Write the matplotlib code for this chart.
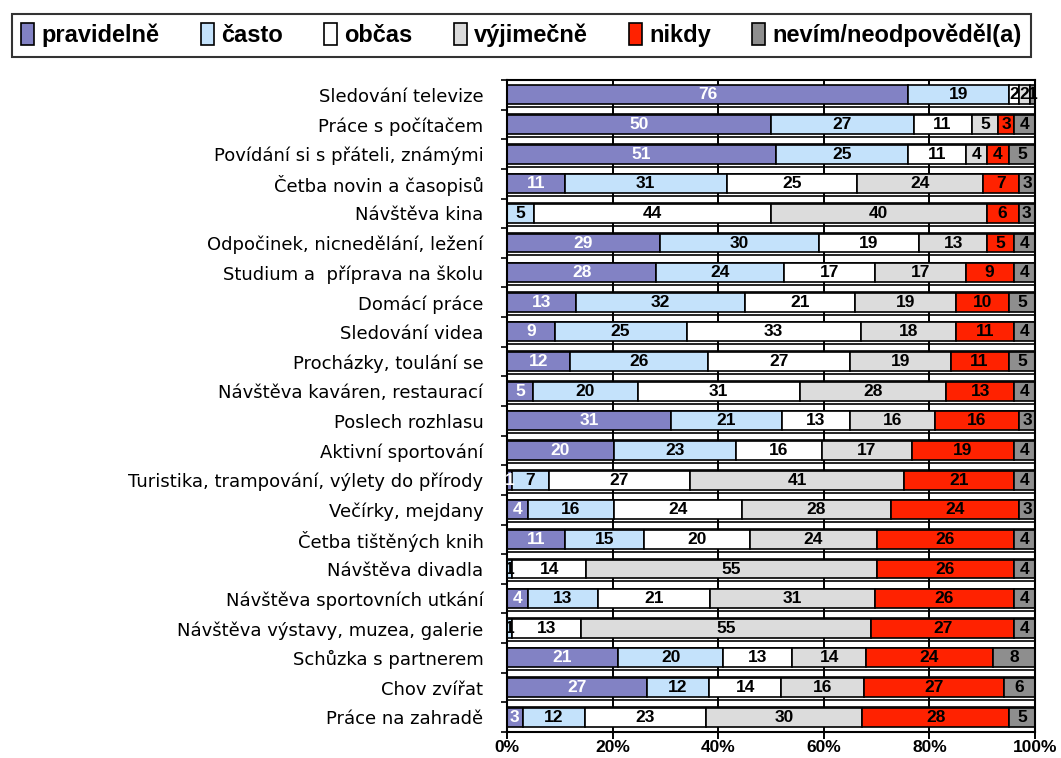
import matplotlib
matplotlib.use("Agg")
import matplotlib.pyplot as plt
import numpy as np
from matplotlib.patches import Patch

categories = [
    "Sledování televize", "Práce s počítačem", "Povídání si s přáteli, známými",
    "Četba novin a časopisů", "Návštěva kina", "Odpočinek, nicnedělání, ležení",
    "Studium a  příprava na školu", "Domácí práce", "Sledování videa",
    "Procházky, toulání se", "Návštěva kaváren, restaurací", "Poslech rozhlasu",
    "Aktivní sportování", "Turistika, trampování, výlety do přírody",
    "Večírky, mejdany", "Četba tištěných knih", "Návštěva divadla",
    "Návštěva sportovních utkání", "Návštěva výstavy, muzea, galerie",
    "Schůzka s partnerem", "Chov zvířat", "Práce na zahradě",
]
series_names = ["pravidelně", "často", "občas", "výjimečně", "nikdy", "nevím/neodpověděl(a)"]
pravidelne = [76, 50, 51, 11, 0, 29, 28, 13, 9, 12, 5, 31, 20, 1, 4, 11, 0, 4, 0, 21, 27, 3]
casto      = [19, 27, 25, 31, 5, 30, 24, 32, 25, 26, 20, 21, 23, 7, 16, 15, 1, 13, 1, 20, 12, 12]
obcas      = [2, 11, 11, 25, 44, 19, 17, 21, 33, 27, 31, 13, 16, 27, 24, 20, 14, 21, 13, 13, 14, 23]
vyjimecne  = [2, 5, 4, 24, 40, 13, 17, 19, 18, 19, 28, 16, 17, 41, 28, 24, 55, 31, 55, 14, 16, 30]
nikdy      = [0, 3, 4, 7, 6, 5, 9, 10, 11, 11, 13, 16, 19, 21, 24, 26, 26, 26, 27, 24, 27, 28]
nevim      = [1, 4, 5, 3, 3, 4, 4, 5, 4, 5, 4, 3, 4, 4, 3, 4, 4, 4, 4, 8, 6, 5]
x_ticks = [0, 20, 40, 60, 80, 100]

colors = ["#8282c4", "#c4e2fb", "#ffffff", "#dcdcdc", "#ff2200", "#8e8e8e"]
text_colors = ["white", "black", "black", "black", "black", "black"]

W, H = 1061, 758
fig = plt.figure(figsize=(W / 100, H / 100), dpi=100)
ax = fig.add_axes([507 / W, 1 - 732 / H, (1035 - 507) / W, (732 - 80) / H])

data = np.array([pravidelne, casto, obcas, vyjimecne, nikdy, nevim], dtype=float)
totals = data.sum(axis=0)
pct = data / totals * 100
n = len(categories)
y = np.arange(n)

# gap bands between bars
for i in range(n - 1):
    ax.axhspan(i + 0.42, i + 0.66, facecolor="white", edgecolor="black", linewidth=1.2, zorder=1)
for xv in x_ticks[1:-1]:
    ax.axvline(xv, color="black", linewidth=1.4, zorder=1.5)

left = np.zeros(n)
for k in range(6):
    ax.barh(y, pct[k], left=left, height=0.64, color=colors[k], edgecolor="black",
            linewidth=1.2, zorder=2, label=series_names[k])
    for i in range(n):
        v = data[k, i]
        if v > 0:
            ax.text(left[i] + pct[k, i] / 2, y[i], f"{int(v)}", ha="center", va="center",
                    color=text_colors[k], fontsize=12.5, fontweight="bold",
                    family=["Liberation Sans", "DejaVu Sans"], zorder=3)
    left += pct[k]

ax.set_xlim(0, 100)
ax.set_ylim(n - 0.5, -0.5)
ax.set_xticks(x_ticks)
ax.set_xticklabels([f"{t}%" for t in x_ticks], fontsize=12.5, fontweight="bold",
                   family=["Liberation Sans", "DejaVu Sans"])
ax.tick_params(axis="x", direction="out", length=5, width=1.4, pad=1)
ax.set_yticks(y)
ax.set_yticklabels(categories, fontsize=13, family=["DejaVu Sans"])
ax.tick_params(axis="y", which="major", length=0, pad=17)
ax.set_yticks(np.arange(-0.5, n, 1.0), minor=True)
ax.tick_params(axis="y", which="minor", length=4, width=1.2, direction="out")
for s in ax.spines.values():
    s.set_linewidth(1.5)
    s.set_color("black")

handles = [Patch(facecolor=colors[k], edgecolor="black", linewidth=1.2) for k in range(6)]
leg = fig.legend(handles, series_names, loc="upper left", bbox_to_anchor=(12 / W, 1 - 14 / H),
                 ncol=6, frameon=True, fancybox=False, edgecolor="black",
                 prop={"family": ["Liberation Sans", "DejaVu Sans"], "weight": "bold", "size": 17},
                 handlelength=0.55, handleheight=1.0, handletextpad=0.3, columnspacing=1.75,
                 borderpad=0.4, borderaxespad=0)
leg.get_frame().set_linewidth(1.5)

fig.savefig("out.png", dpi=100)
